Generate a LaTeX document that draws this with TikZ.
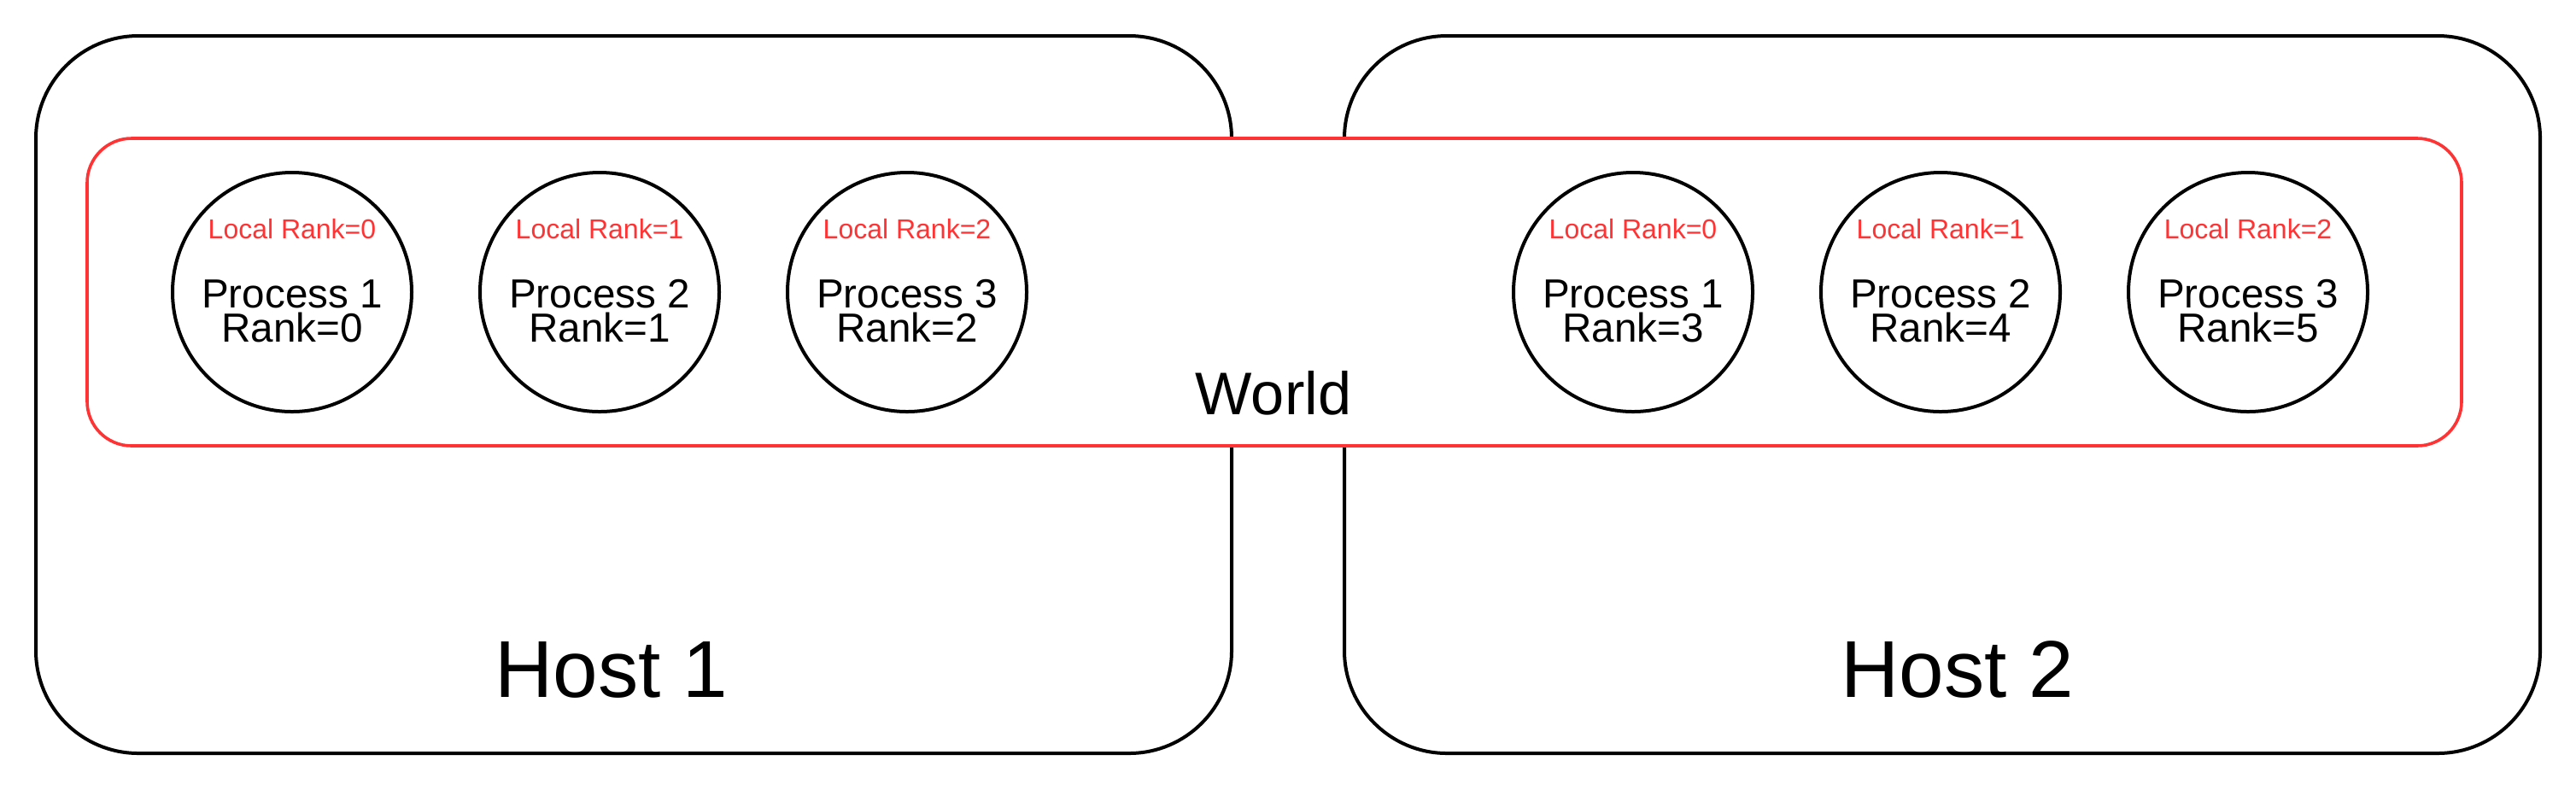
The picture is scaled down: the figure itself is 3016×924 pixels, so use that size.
\documentclass[tikz,border=0pt]{standalone}
\usepackage{fontspec}
\setmainfont{Liberation Sans}
\definecolor{wred}{HTML}{FF3333}
\begin{document}
\begin{tikzpicture}[x=0.25pt,y=-0.25pt,
  hostbox/.style={draw=black,line width=1pt,rounded corners=30pt,minimum width=350pt,minimum height=210pt,inner sep=0pt},
  worldbox/.style={draw=wred,fill=white,line width=0.9pt,rounded corners=13pt,minimum width=695pt,minimum height=90pt,inner sep=0pt},
  proc/.style={draw=black,line width=1pt,circle,minimum size=70pt,inner sep=0pt},
  loctext/.style={text=wred,font=\fontsize{8pt}{9pt}\selectfont,anchor=base,inner sep=0pt},
  ptext/.style={font=\fontsize{11.9pt}{10pt}\selectfont,align=center,anchor=base,inner sep=0pt},
  worldtext/.style={font=\fontsize{17.6pt}{20pt}\selectfont,anchor=base,inner sep=0pt},
  hosttext/.style={font=\fontsize{23.6pt}{27pt}\selectfont,anchor=base,inner sep=0pt}]
\useasboundingbox (0,0) rectangle (3016,924);
\node[hostbox] (host1) at (742,462) {};
\node[hostbox] (host2) at (2274,462) {};
\node[worldbox] (worldbox) at (1492,342) {};
\foreach \x/\n/\r/\l [count=\i] in {342/1/0/0, 702/2/1/1, 1062/3/2/2, 1912/1/3/0, 2272/2/4/1, 2632/3/5/2} {
  \node[proc] (p\i) at (\x,342) {};
  \node[loctext] (l\i) at (\x,279) {Local Rank=\l};
  \node[ptext] (t\i) at (\x,400) {Process \n\\Rank=\r};
}
\node[worldtext] (world) at (1491,485) {World};
\node[hosttext] (h1) at (716,816) {Host 1};
\node[hosttext] (h2) at (2292,816) {Host 2};
\end{tikzpicture}
\end{document}
